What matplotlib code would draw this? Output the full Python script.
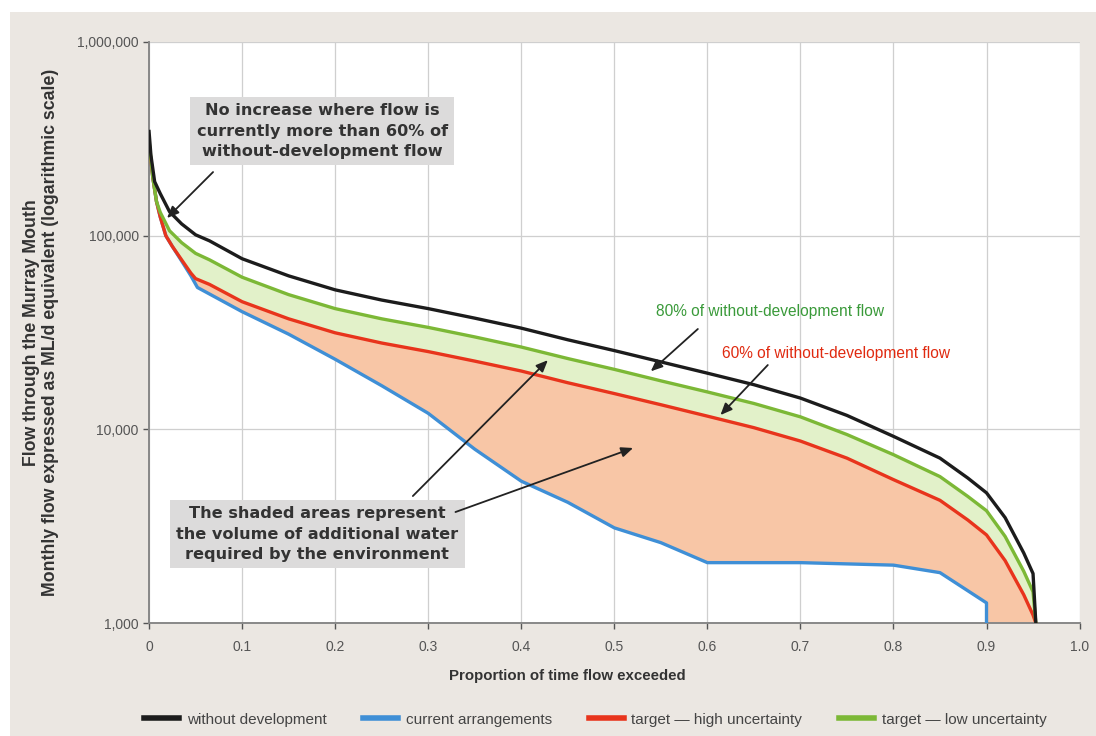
import numpy as np
import matplotlib
matplotlib.use("Agg")
import matplotlib.pyplot as plt
from matplotlib.patches import Rectangle
from matplotlib.lines import Line2D

plt.rcParams["font.family"] = ["Liberation Sans", "DejaVu Sans"]

# Flow duration curves (proportion of time exceeded vs monthly flow, ML/d)
wd_x = [0, 0.002, 0.006, 0.012, 0.022, 0.035, 0.05, 0.065, 0.1, 0.15, 0.2, 0.25, 0.3,
        0.35, 0.4, 0.45, 0.5, 0.55, 0.6, 0.65, 0.7, 0.75, 0.8, 0.85, 0.88, 0.9, 0.92,
        0.94, 0.95, 0.953]
wd_y = [345000, 260000, 190000, 165000, 133000, 115000, 101000, 94000, 76000, 62000,
        52500, 46500, 42000, 37500, 33300, 29000, 25500, 22300, 19500, 17000, 14500,
        11800, 9200, 7100, 5600, 4700, 3500, 2300, 1800, 1000]

cur_x = [0, 0.004, 0.008, 0.012, 0.018, 0.025, 0.035, 0.045, 0.052, 0.1, 0.15, 0.2,
         0.25, 0.3, 0.35, 0.4, 0.45, 0.5, 0.55, 0.6, 0.7, 0.8, 0.85, 0.9, 0.9]
cur_y = [300000, 200000, 150000, 125000, 100000, 88000, 74000, 62000, 54000, 40500,
         31000, 23000, 16800, 12100, 7900, 5400, 4200, 3100, 2600, 2050, 2050, 1990,
         1820, 1270, 1000]

high_x = [0, 0.004, 0.008, 0.012, 0.018, 0.025, 0.035, 0.045, 0.05, 0.065, 0.1, 0.15,
          0.2, 0.25, 0.3, 0.35, 0.4, 0.45, 0.5, 0.55, 0.6, 0.65, 0.7, 0.75, 0.8, 0.85,
          0.88, 0.9, 0.92, 0.94, 0.95, 0.953]
high_y = [300000, 200000, 150000, 125000, 100000, 88000, 75000, 64000, 60000, 56000,
          45600, 37200, 31500, 27900, 25200, 22500, 20000, 17400, 15300, 13400, 11700,
          10200, 8700, 7100, 5500, 4300, 3400, 2850, 2100, 1400, 1100, 1000]

low_x = [0, 0.004, 0.008, 0.012, 0.022, 0.035, 0.05, 0.065, 0.1, 0.15, 0.2, 0.25, 0.3,
         0.35, 0.4, 0.45, 0.5, 0.55, 0.6, 0.65, 0.7, 0.75, 0.8, 0.85, 0.88, 0.9, 0.92,
         0.94, 0.95, 0.953]
low_y = [310000, 200000, 150000, 132000, 106000, 92000, 81000, 75000, 61000, 49600,
         42000, 37200, 33600, 30000, 26600, 23200, 20400, 17800, 15600, 13600, 11600,
         9400, 7400, 5700, 4500, 3800, 2800, 1850, 1450, 1000]

legend_labels = ["without development", "current arrangements",
                 "target \u2014 high uncertainty", "target \u2014 low uncertainty"]
x_ticks = [0, 0.1, 0.2, 0.3, 0.4, 0.5, 0.6, 0.7, 0.8, 0.9, 1.0]
x_ticklabels = ["0", "0.1", "0.2", "0.3", "0.4", "0.5", "0.6", "0.7", "0.8", "0.9", "1.0"]
y_ticks = [1000, 10000, 100000, 1000000]
y_ticklabels = ["1,000", "10,000", "100,000", "1,000,000"]

BLACK = "#1c1c1c"
BLUE = "#3f8fd6"
RED = "#e8341c"
GREEN = "#7cb836"
BG = "#ebe7e2"

fig = plt.figure(figsize=(10.96, 7.36), dpi=100, facecolor="white")
fig.patches.append(Rectangle((10 / 1096, 0), 1, 1 - 12 / 736, transform=fig.transFigure,
                             facecolor=BG, edgecolor="none", zorder=-10))

ax = fig.add_axes([0.136, 0.1535, 0.849, 0.7895])
ax.set_facecolor("white")
ax.set_yscale("log")
ax.set_xlim(0, 1.0)
ax.set_ylim(1000, 1000000)

# shaded areas: additional water needed
ax.fill(np.r_[high_x, cur_x[::-1]], np.r_[high_y, cur_y[::-1]],
        color="#f8c6a6", lw=0, zorder=1)
ax.fill(np.r_[low_x, high_x[::-1]], np.r_[low_y, high_y[::-1]],
        color="#e2f1c9", lw=0, zorder=1)

lw = 2.4
ax.plot(cur_x, cur_y, color=BLUE, lw=lw, zorder=3)
ax.plot(high_x, high_y, color=RED, lw=lw, zorder=4)
ax.plot(low_x, low_y, color=GREEN, lw=lw, zorder=5)
ax.plot(wd_x, wd_y, color=BLACK, lw=lw, zorder=6)

ax.set_xticks(x_ticks)
ax.set_xticklabels(x_ticklabels)
ax.set_yticks(y_ticks)
ax.set_yticklabels(y_ticklabels)
ax.yaxis.set_minor_locator(matplotlib.ticker.NullLocator())
ax.tick_params(colors="#555555", labelsize=10, length=4, width=1)
ax.tick_params(axis="x", pad=8)
ax.grid(True, color="#cfcfcf", lw=0.9, zorder=0)
ax.set_axisbelow(True)
for side in ["top", "right"]:
    ax.spines[side].set_visible(False)
for side in ["left", "bottom"]:
    ax.spines[side].set_color("#888888")
    ax.spines[side].set_linewidth(1.4)

ax.set_xlabel("Proportion of time flow exceeded", fontsize=10.8, fontweight="bold",
              color="#333333")
ax.xaxis.set_label_coords(0.449, -0.079)
ax.set_ylabel("Flow through the Murray Mouth\n"
              "Monthly flow expressed as ML/d equivalent (logarithmic scale)",
              fontsize=12.8, fontweight="bold", color="#333333", va="center",
              linespacing=1.1)
ax.yaxis.set_label_coords(-0.116, 0.5)

box = dict(boxstyle="square,pad=0.4", facecolor="#dcdbdb", edgecolor="none")
arrow = dict(arrowstyle="-|>,head_length=0.7,head_width=0.3", color="#222222", lw=1.3)
note_font = dict(family="DejaVu Sans", fontsize=11.6, fontweight="bold", color="#333333")

ax.text(0.186, 346700, "No increase where flow is\ncurrently more than 60% of\n"
        "without-development flow", ha="center", va="center", bbox=box, zorder=8,
        linespacing=1.45, **note_font)
ax.annotate("", xy=(0.0172, 120400), xytext=(0.0709, 218000), arrowprops=arrow, zorder=9)

ax.text(0.1805, 2880, "The shaded areas represent\nthe volume of additional water\n"
        "required by the environment", ha="center", va="center", bbox=box, zorder=8,
        linespacing=1.45, **note_font)
ax.annotate("", xy=(0.4307, 23300), xytext=(0.2814, 4420), arrowprops=arrow, zorder=9)
ax.annotate("", xy=(0.523, 8100), xytext=(0.3265, 3700), arrowprops=arrow, zorder=9)

ax.text(0.667, 40800, "80% of without-development flow", ha="center", va="center",
        fontsize=11.2, color="#3a9a3a", zorder=8)
ax.annotate("", xy=(0.537, 19500), xytext=(0.592, 33700), arrowprops=arrow, zorder=9)
ax.text(0.738, 24500, "60% of without-development flow", ha="center", va="center",
        fontsize=11.2, color="#e02a10", zorder=8)
ax.annotate("", xy=(0.612, 11570), xytext=(0.667, 22000), arrowprops=arrow, zorder=9)

handles = [Line2D([], [], color=c, lw=4) for c in (BLACK, BLUE, RED, GREEN)]
fig.legend(handles, legend_labels, loc="center", bbox_to_anchor=(0.543, 0.022), ncol=4,
           frameon=False, fontsize=11, handlelength=2.3, handletextpad=0.5,
           columnspacing=2.4, labelcolor="#444444")

fig.savefig("out.png", dpi=100, facecolor=fig.get_facecolor())
